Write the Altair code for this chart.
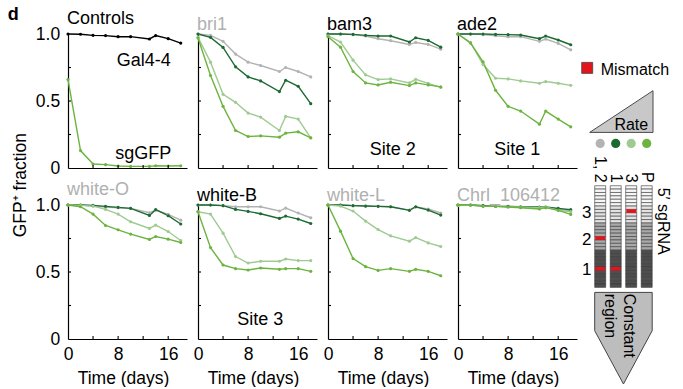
import altair as alt
import pandas as pd

FONT = "Liberation Sans"

# Sampling days shared by every time course
DAYS = [0, 2, 4, 6, 8, 10, 13, 14, 16, 18]

# Controls
GAL4_4 = [1.0, 0.998, 0.99, 0.988, 0.98, 0.98, 0.963, 0.988, 0.965, 0.932]
SG_GFP = [0.66, 0.13, 0.03, 0.025, 0.015, 0.012, 0.012, 0.017, 0.015, 0.017]

# Guide variants: mismatches at 1,2 / at 1 / at 3 / perfect match
VARIANTS = ["1, 2", "1", "3", "P"]

BRI1_MM12 = [1.0, 0.99, 0.945, 0.85, 0.79, 0.765, 0.72, 0.75, 0.72, 0.68]
BRI1_MM1 = [1.0, 0.975, 0.9, 0.755, 0.68, 0.65, 0.57, 0.655, 0.61, 0.48]
BRI1_MM3 = [0.975, 0.79, 0.55, 0.49, 0.41, 0.38, 0.28, 0.385, 0.365, 0.225]
BRI1_P = [0.97, 0.69, 0.46, 0.28, 0.235, 0.24, 0.23, 0.26, 0.27, 0.225]

BAM3_MM12 = [1.0, 1.0, 0.995, 0.985, 0.965, 0.95, 0.922, 0.937, 0.922, 0.887]
BAM3_MM1 = [1.0, 1.0, 0.997, 0.99, 0.985, 0.985, 0.94, 0.972, 0.952, 0.902]
BAM3_MM3 = [0.987, 0.94, 0.805, 0.695, 0.66, 0.665, 0.635, 0.662, 0.632, 0.602]
BAM3_P = [0.98, 0.902, 0.72, 0.635, 0.62, 0.64, 0.615, 0.635, 0.62, 0.605]

ADE2_MM12 = [1.0, 1.0, 0.995, 0.987, 0.98, 0.98, 0.945, 0.962, 0.93, 0.882]
ADE2_MM1 = [1.0, 1.0, 1.0, 0.997, 0.995, 0.992, 0.965, 0.985, 0.955, 0.92]
ADE2_MM3 = [1.0, 0.937, 0.772, 0.67, 0.665, 0.65, 0.632, 0.645, 0.632, 0.617]
ADE2_P = [1.0, 0.932, 0.792, 0.58, 0.46, 0.425, 0.327, 0.425, 0.365, 0.307]

WHITE_O_MM12 = [1.0, 1.0, 0.992, 0.985, 0.98, 0.975, 0.942, 0.962, 0.93, 0.887]
WHITE_O_MM1 = [1.0, 1.0, 0.997, 0.99, 0.982, 0.975, 0.922, 0.965, 0.92, 0.858]
WHITE_O_MM3 = [1.0, 0.997, 0.992, 0.967, 0.932, 0.875, 0.825, 0.85, 0.802, 0.735]
WHITE_O_P = [1.0, 0.987, 0.932, 0.847, 0.815, 0.783, 0.743, 0.765, 0.745, 0.72]

WHITE_B_MM12 = [1.0, 1.0, 0.995, 0.987, 0.987, 0.987, 0.955, 0.977, 0.94, 0.905]
WHITE_B_MM1 = [1.0, 1.0, 0.995, 0.967, 0.952, 0.935, 0.9, 0.917, 0.895, 0.862]
WHITE_B_MM3 = [0.95, 0.932, 0.79, 0.615, 0.567, 0.58, 0.58, 0.597, 0.585, 0.585]
WHITE_B_P = [0.95, 0.682, 0.552, 0.525, 0.515, 0.53, 0.52, 0.525, 0.525, 0.505]

WHITE_L_MM12 = [1.0, 1.0, 0.995, 0.992, 0.99, 0.987, 0.962, 0.985, 0.97, 0.94]
WHITE_L_MM1 = [1.0, 1.0, 0.995, 0.992, 0.99, 0.987, 0.96, 0.987, 0.962, 0.925]
WHITE_L_MM3 = [1.0, 0.992, 0.955, 0.88, 0.817, 0.77, 0.73, 0.757, 0.717, 0.69]
WHITE_L_P = [1.0, 0.805, 0.6, 0.54, 0.512, 0.525, 0.505, 0.52, 0.505, 0.472]

CHRL_MM12 = [1.0, 1.0, 0.995, 0.99, 0.99, 0.985, 0.98, 0.98, 0.97, 0.955]
CHRL_MM1 = [1.0, 1.0, 0.995, 0.99, 0.99, 0.987, 0.985, 0.985, 0.975, 0.965]
CHRL_MM3 = [0.995, 1.0, 0.99, 0.99, 0.985, 0.985, 0.98, 0.985, 0.96, 0.95]
CHRL_P = [1.0, 1.0, 0.99, 0.99, 0.985, 0.98, 0.97, 0.98, 0.96, 0.93]

# Panel titles (black = targeted gene, grey = weaker / control target)
TITLES = ["Controls", "bri1", "bam3", "ade2", "white-O", "white-B", "white-L", "Chrl_106412"]
TITLE_IS_GREY = [False, True, False, False, True, False, True, True]

# In-panel labels: (panel index, text, day, fraction)
NOTE_PANEL = [0, 0, 2, 3, 5]
NOTE_TEXT = ["Gal4-4", "sgGFP", "Site 2", "Site 1", "Site 3"]
NOTE_DAY = [12.1, 12.0, 10.35, 9.45, 9.95]
NOTE_FRAC = [0.80, 0.107, 0.132, 0.132, 0.145]

# sgRNA schematic: 30 positions per guide, mismatch positions per variant
N_POS = 30
MISMATCH_POS = {"1, 2": [24, 15], "1": [24], "3": [7], "P": []}
SITE_LABELS = ["1", "2", "3"]
SITE_POS = [24, 15, 7]

# ---------------------------------------------------------------- styling
BLACK = "#000000"
GREY_TXT = "#b0b0b0"
VARIANT_COLORS = ["#b3b3b3", "#1c6a31", "#9fca92", "#6cb43f"]
RED = "#e3141c"
SHADE_BANDS = [(0, 6, "#f6f6f6"), (6, 11, "#e2e2e2"), (11, 19, "#a9a9a9"), (19, 30, "#4e4e4e")]

W, H = 119, 134
X_SCALE = alt.Scale(domain=[0, 19], nice=False, zero=False)
Y_SCALE = alt.Scale(domain=[0, 1], nice=False, zero=False)
COLOR_SCALE = alt.Scale(domain=["Gal4-4", "sgGFP"] + VARIANTS,
                        range=[BLACK, "#6cb43f"] + VARIANT_COLORS)

AX = dict(grid=False, ticks=False, tickSize=0, domainColor=BLACK, domainWidth=1.2,
          labelFlush=False)


def series_frame(names, values):
    rows = [{"day": d, "frac": v, "series": n}
            for n, vals in zip(names, values)
            for d, v in zip(DAYS, vals)]
    return pd.DataFrame(rows)


def schematic():
    # pixel-like scales anchored at the plot origin of the panel it sits on
    sx = alt.Scale(domain=[0, W], nice=False, zero=False)
    sy = alt.Scale(domain=[0, H], nice=False, zero=False, reverse=True)

    col_left, col_pitch, col_w = 136.7, 15.5, 11.0
    cell_top, cell_h = 151.7, 3.39

    def X(f):
        return alt.X(f, scale=sx, axis=None)

    def Y(f):
        return alt.Y(f, scale=sy, axis=None)

    cells, marks = [], []
    for ci, v in enumerate(VARIANTS):
        x0 = col_left + ci * col_pitch
        for k in range(N_POS):
            shade = next(c for a, b, c in SHADE_BANDS if a <= k < b)
            cells.append({"x": x0, "x2": x0 + col_w,
                          "y": cell_top + k * cell_h, "y2": cell_top + (k + 1) * cell_h,
                          "fill": shade})
        for k in MISMATCH_POS[v]:
            marks.append({"x": x0 + 0.6, "x2": x0 + col_w - 0.6,
                          "y": cell_top + k * cell_h - 0.1, "y2": cell_top + (k + 1) * cell_h + 0.1})
    rects = alt.Chart(pd.DataFrame(cells)).mark_rect(stroke="#3a3a3a", strokeWidth=0.6).encode(
        x=X("x:Q"), x2="x2:Q", y=Y("y:Q"), y2="y2:Q",
        fill=alt.Fill("fill:N", scale=None))
    red_cells = alt.Chart(pd.DataFrame(marks)).mark_rect(fill=RED).encode(
        x=X("x:Q"), x2="x2:Q", y=Y("y:Q"), y2="y2:Q")

    centers = [col_left + i * col_pitch + col_w / 2 for i in range(len(VARIANTS))]
    col_lab = alt.Chart(pd.DataFrame({"x": centers, "y": [148.7] * 4, "t": VARIANTS})).mark_text(
        angle=90, align="right", baseline="middle", fontSize=16, color=BLACK).encode(
        x=X("x:Q"), y=Y("y:Q"), text="t:N")

    dots = alt.Chart(pd.DataFrame({"x": centers, "y": [109.4] * 4, "c": VARIANT_COLORS})).mark_circle(
        size=85, opacity=1).encode(x=X("x:Q"), y=Y("y:Q"), color=alt.Color("c:N", scale=None))

    site_lab = alt.Chart(pd.DataFrame({
        "x": [128.7] * 3,
        "y": [cell_top + (p + 0.5) * cell_h + 1.5 for p in SITE_POS],
        "t": SITE_LABELS})).mark_text(fontSize=17, baseline="middle", align="center", color=BLACK).encode(
        x=X("x:Q"), y=Y("y:Q"), text="t:N")

    key = alt.Chart(pd.DataFrame({"x": [123.7], "x2": [134.7], "y": [28.4], "y2": [39.4]})).mark_rect(
        fill=RED, stroke="#444444", strokeWidth=0.8).encode(x=X("x:Q"), x2="x2:Q", y=Y("y:Q"), y2="y2:Q")
    key_txt = alt.Chart(pd.DataFrame({"x": [142.7], "y": [40.7], "t": ["Mismatch"]})).mark_text(
        align="left", baseline="alphabetic", fontSize=16, color=BLACK).encode(
        x=X("x:Q"), y=Y("y:Q"), text="t:N")

    tri = alt.Chart(pd.DataFrame({"x": [131.7, 195.0], "y": [98.4, 56.7], "y2": [98.4, 98.4]})).mark_area(
        fill="#c8c8c8", stroke="#4a4a4a", strokeWidth=1).encode(x=X("x:Q"), y=Y("y:Q"), y2="y2:Q")
    rate_txt = alt.Chart(pd.DataFrame({"x": [190.2], "y": [96.2], "t": ["Rate"]})).mark_text(
        align="right", baseline="alphabetic", fontSize=16, color=BLACK).encode(
        x=X("x:Q"), y=Y("y:Q"), text="t:N")

    tip = col_left + (3 * col_pitch + col_w) / 2
    right = col_left + 3 * col_pitch + col_w
    pent = alt.Chart(pd.DataFrame({"y": [258.4, 296.7, 350.0],
                                   "x": [col_left, col_left, tip],
                                   "x2": [right, right, tip]})).mark_area(
        orient="horizontal", fill="#bdbdbd", stroke="#444444", strokeWidth=1).encode(
        y=Y("y:Q"), x=X("x:Q"), x2="x2:Q")

    side_txt = alt.Chart(pd.DataFrame({"x": [204.7, 151.7, 170.7], "y": [153.7, 259.7, 259.7],
                                       "t": ["5′ sgRNA", "region", "Constant"]})).mark_text(
        angle=90, align="left", baseline="middle", fontSize=16, color=BLACK).encode(
        x=X("x:Q"), y=Y("y:Q"), text="t:N")

    return alt.layer(key, key_txt, tri, rate_txt, dots, col_lab, rects, red_cells, site_lab,
                     pent, side_txt)


def panel(idx, names, values):
    row, col = divmod(idx, 4)
    df = series_frame(names, values)

    if row == 1:
        x_axis = alt.Axis(values=[0, 8, 16], format="d", labelPadding=20.6, labelBaseline="alphabetic",
                          title="Time (days)", titleX=55, titleY=44, titleBaseline="alphabetic",
                          titleAlign="center", **AX)
    else:
        x_axis = alt.Axis(labels=False, title=None, **AX)

    if col == 0:
        ykw = dict(values=[0, 0.5, 1], labelPadding=8.3,
                   labelExpr="datum.value == 0 ? '0' : format(datum.value, '.1f')")
        if row == 0:
            y_axis = alt.Axis(title="GFP⁺ fraction", titleX=-42.3, titleY=150.7, titleAngle=270,
                              titleBaseline="alphabetic", titleAlign="center", **ykw, **AX)
        else:
            y_axis = alt.Axis(title=None, **ykw, **AX)
    else:
        y_axis = alt.Axis(labels=False, title=None, **AX)

    # every layer carries the same axis definition so the shared axes merge cleanly
    def XE(f):
        return alt.X(f, scale=X_SCALE, axis=x_axis)

    def YE(f):
        return alt.Y(f, scale=Y_SCALE, axis=y_axis)

    lines = alt.Chart(df).mark_line(
        strokeWidth=1.4, point=alt.OverlayMarkDef(filled=True, size=10, opacity=1)).encode(
        x=XE("day:Q"), y=YE("frac:Q"),
        color=alt.Color("series:N", scale=COLOR_SCALE, legend=None))

    # inward tick marks on both axes
    yt = alt.Chart(pd.DataFrame({"frac": [0.25, 0.5, 0.75]})).mark_rule(
        color=BLACK, strokeWidth=1.1).encode(y=YE("frac:Q"), x=alt.value(0), x2=alt.value(3))
    xt = alt.Chart(pd.DataFrame({"day": [4, 8, 12, 16]})).mark_rule(
        color=BLACK, strokeWidth=1.1).encode(x=XE("day:Q"), y=alt.value(H), y2=alt.value(H - 3))

    layers = [lines, xt, yt]
    nd = pd.DataFrame({"p": NOTE_PANEL, "t": NOTE_TEXT, "day": NOTE_DAY, "frac": NOTE_FRAC})
    nd = nd[nd["p"] == idx]
    if len(nd):
        layers.append(alt.Chart(nd).mark_text(fontSize=18, color=BLACK, baseline="middle").encode(
            x=XE("day:Q"), y=YE("frac:Q"), text="t:N"))

    base = alt.layer(*layers)
    if idx == 3:
        base = alt.layer(base, schematic()).resolve_scale(x="independent", y="independent")

    return base.properties(
        width=W, height=H,
        title=alt.TitleParams(TITLES[idx], color=GREY_TXT if TITLE_IS_GREY[idx] else BLACK,
                              anchor="start", frame="group", offset=-17.2, baseline="alphabetic",
                              fontSize=18, fontWeight="normal", dx=-1))


SERIES_SETS = [
    (["Gal4-4", "sgGFP"], [GAL4_4, SG_GFP]),
    (VARIANTS, [BRI1_MM12, BRI1_MM1, BRI1_MM3, BRI1_P]),
    (VARIANTS, [BAM3_MM12, BAM3_MM1, BAM3_MM3, BAM3_P]),
    (VARIANTS, [ADE2_MM12, ADE2_MM1, ADE2_MM3, ADE2_P]),
    (VARIANTS, [WHITE_O_MM12, WHITE_O_MM1, WHITE_O_MM3, WHITE_O_P]),
    (VARIANTS, [WHITE_B_MM12, WHITE_B_MM1, WHITE_B_MM3, WHITE_B_P]),
    (VARIANTS, [WHITE_L_MM12, WHITE_L_MM1, WHITE_L_MM3, WHITE_L_P]),
    (VARIANTS, [CHRL_MM12, CHRL_MM1, CHRL_MM3, CHRL_P]),
]

panels = [panel(i, n, v) for i, (n, v) in enumerate(SERIES_SETS)]

chart = alt.concat(
    *panels, columns=4, spacing={"row": 37, "column": 11}, bounds="flush",
    title=alt.TitleParams("d", anchor="start", frame="bounds", offset=-28, dx=-4, fontSize=18,
                          fontWeight="bold", baseline="alphabetic", color=BLACK),
).properties(
    padding={"left": 7, "top": 6, "right": 2, "bottom": 0}
).configure(font=FONT).configure_view(stroke=None).configure_axis(
    labelFontSize=17.5, titleFontSize=17.5, titleFontWeight="normal",
    labelColor=BLACK, titleColor=BLACK)

chart.save("out.html", embed_options={"renderer": "svg", "actions": False})
